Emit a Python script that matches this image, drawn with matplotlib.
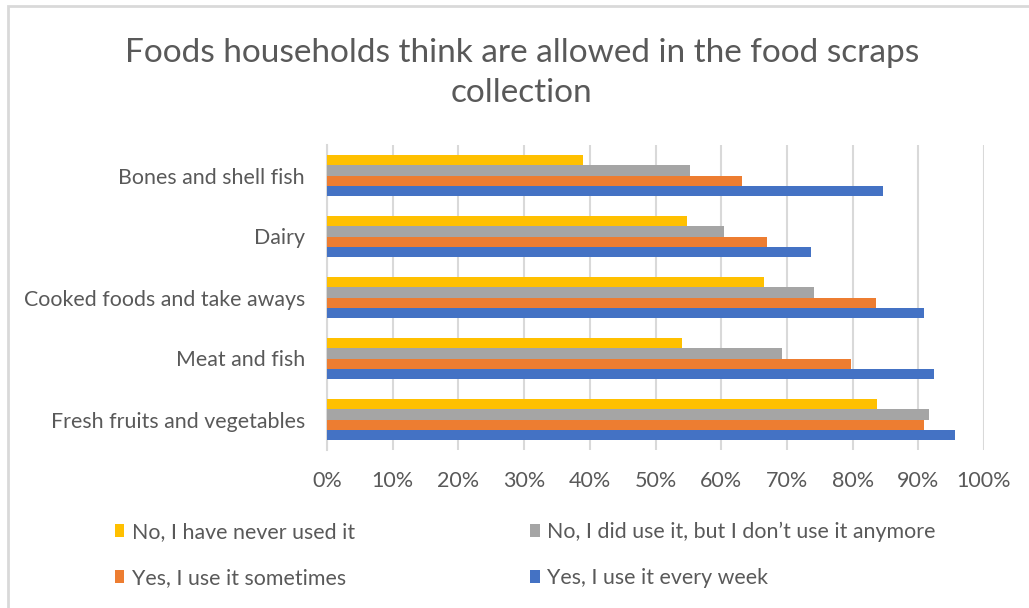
import numpy as np
import matplotlib.pyplot as plt
from matplotlib.patches import Rectangle

categories = ["Fresh fruits and vegetables", "Meat and fish",
              "Cooked foods and take aways", "Dairy", "Bones and shell fish"]

# share of respondents (%) per category, bottom to top
every_week = [95.6, 92.4, 90.9, 73.6, 84.6]
sometimes = [90.8, 79.7, 83.5, 66.9, 63.1]
stopped = [91.6, 69.2, 74.2, 60.4, 55.3]
never = [83.7, 54.0, 66.5, 54.8, 38.9]

series = [
    ("Yes, I use it every week", every_week, "#4472C4"),
    ("Yes, I use it sometimes", sometimes, "#ED7D31"),
    ("No, I did use it, but I don\u2019t use it anymore", stopped, "#A5A5A5"),
    ("No, I have never used it", never, "#FFC000"),
]

text_color = "#595959"
plt.rcParams["font.family"] = ["Lato", "DejaVu Sans"]

W, H = 1029, 608
fig = plt.figure(figsize=(W / 100, H / 100), dpi=100)
ax = fig.add_axes([327 / W, 1 - 450 / H, (984 - 327) / W, 305 / H])

y = np.arange(len(categories))
h = 0.167
for i, (name, vals, col) in enumerate(series):
    ax.barh(y + (i - 1.5) * h, vals, height=h, color=col, label=name, zorder=3)

ax.set_xlim(0, 100)
ax.set_ylim(-0.5, len(categories) - 0.5)
ax.set_xticks(np.arange(0, 101, 10))
ax.set_xticklabels([f"{v}%" for v in range(0, 101, 10)])
ax.set_yticks(y)
ax.set_yticklabels(categories)
ax.tick_params(axis="x", length=0, pad=15, labelsize=15.5, labelcolor=text_color)
ax.tick_params(axis="y", length=0, pad=16, labelsize=15.4, labelcolor=text_color)
ax.grid(axis="x", color="#D9D9D9", linewidth=1.5, zorder=0)
for s in ["top", "right", "bottom"]:
    ax.spines[s].set_visible(False)
ax.spines["left"].set_color("#D9D9D9")
ax.spines["left"].set_linewidth(1.5)

fig.text(0.507, 1 - 73 / H, "Foods households think are allowed in the food scraps\ncollection",
         ha="center", va="center", fontsize=24, color=text_color, linespacing=1.38)

# legend: two rows, two columns (filled column by column)
handles, labels = ax.get_legend_handles_labels()
order = [3, 1, 2, 0]
fig.legend([handles[k] for k in order], [labels[k] for k in order],
           loc="upper left", bbox_to_anchor=(104 / W, 1 - 511 / H), ncol=2,
           frameon=False, fontsize=15.4, labelcolor=text_color, borderpad=0,
           handlelength=0.45, handleheight=0.55, handletextpad=0.35,
           columnspacing=8.2, labelspacing=1.2)

# chart border
fig.patches.append(Rectangle((8 / W, -0.1), 1.2, 1 - 6 / H + 0.1,
                             transform=fig.transFigure, fill=False,
                             edgecolor="#D9D9D9", linewidth=2))

fig.savefig("out.png", dpi=100)
